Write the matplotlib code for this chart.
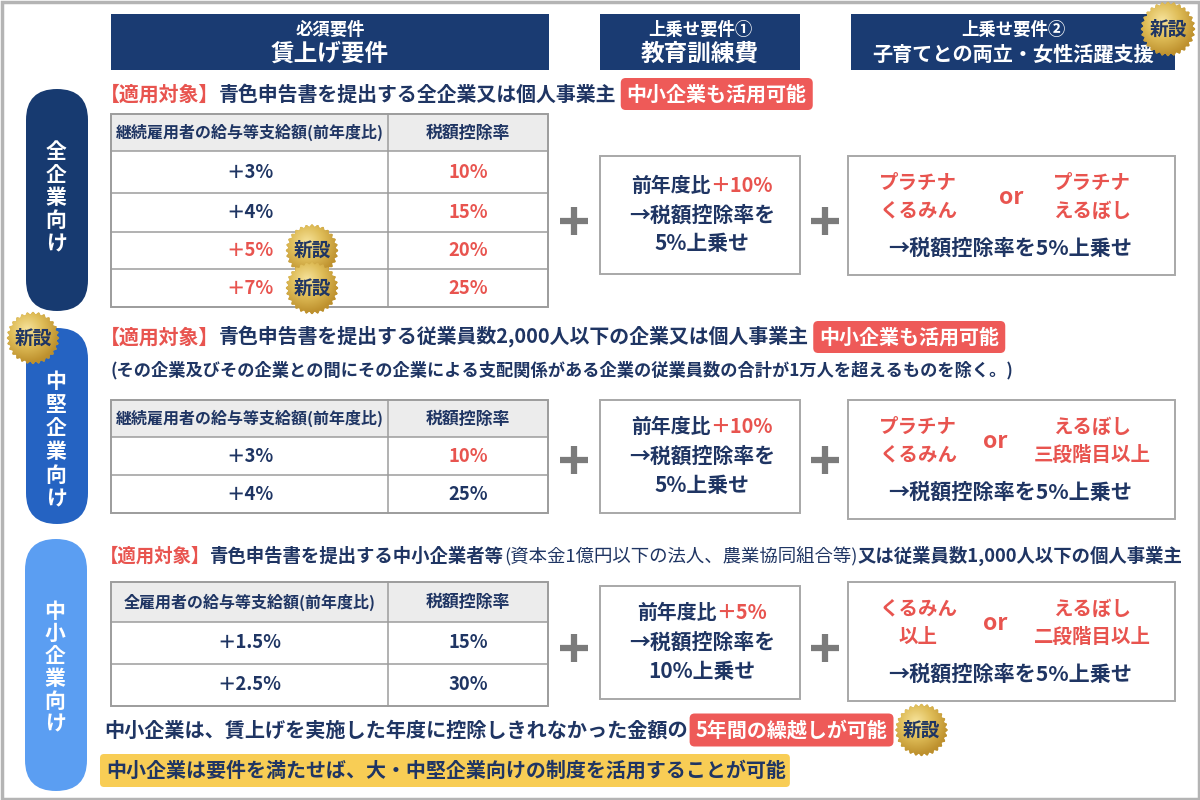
import numpy as np
import matplotlib
matplotlib.use("Agg")
import matplotlib.pyplot as plt
from matplotlib.patches import FancyBboxPatch, Rectangle, Polygon
from matplotlib.colors import LinearSegmentedColormap

plt.rcParams['font.family'] = ['Noto Sans CJK JP', 'DejaVu Sans']

## データ
col_small = ["必須要件", "上乗せ要件①", "上乗せ要件②"]
col_big = ["賃上げ要件", "教育訓練費", "子育てとの両立・女性活躍支援"]
targets = ["全企業向け", "中堅企業向け", "中小企業向け"]
scope_text = ["青色申告書を提出する全企業又は個人事業主",
              "青色申告書を提出する従業員数2,000人以下の企業又は個人事業主",
              None]
scope3_parts = ["青色申告書を提出する中小企業者等", "(資本金1億円以下の法人、農業協同組合等)",
                "又は従業員数1,000人以下の個人事業主"]
scope_note = "(その企業及びその企業との間にその企業による支配関係がある企業の従業員数の合計が1万人を超えるものを除く。)"
badge_text = "中小企業も活用可能"
table_head = ["継続雇用者の給与等支給額(前年度比)", "継続雇用者の給与等支給額(前年度比)",
              "全雇用者の給与等支給額(前年度比)"]
rate_head = "税額控除率"
wage_up = [["＋3%", "＋4%", "＋5%", "＋7%"], ["＋3%", "＋4%"], ["＋1.5%", "＋2.5%"]]
wage_red = [[False, False, True, True], [False, False], [False, False]]
credit = [["10%", "15%", "20%", "25%"], ["10%", "25%"], ["15%", "30%"]]
credit_red = [[True, True, True, True], [True, False], [False, False]]
new_row = [[False, False, True, True], [False, False], [False, False]]
edu_up = ["＋10%", "＋10%", "＋5%"]
edu_add = ["5%", "5%", "10%"]
cert_left = [["プラチナ", "くるみん"], ["プラチナ", "くるみん"], ["くるみん", "以上"]]
cert_right = [["プラチナ", "えるぼし"], ["えるぼし", "三段階目以上"], ["えるぼし", "二段階目以上"]]
carry_text = "中小企業は、賃上げを実施した年度に控除しきれなかった金額の"
carry_badge = "5年間の繰越しが可能"
note_text = "中小企業は要件を満たせば、大・中堅企業向けの制度を活用することが可能"

## 色
NAVY = '#1a3b72'
TXT = '#1f3563'
RED = '#e8544f'
BADGE = '#ee5a58'
GRAY = '#9c9c9c'
PILL = ['#173a70', '#2563c2', '#5b9ef2']
gold = LinearSegmentedColormap.from_list('gold', ['#f6e29a', '#dfbd58', '#bf922f', '#a97f25'])

fig = plt.figure(figsize=(12, 8), dpi=100)
ax = fig.add_axes([0, 0, 1, 1])
ax.set_xlim(0, 1200)
ax.set_ylim(800, 0)
ax.axis('off')
renderer = fig.canvas.get_renderer()


def rich(x, y, parts, size, ha='left', weight='bold'):
    """Texte multicolore sur une ligne; parts = [(texte, couleur[, poids])]"""
    objs = []
    for p in parts:
        w = p[2] if len(p) > 2 else weight
        t = ax.text(0, y, p[0], color=p[1], fontsize=size, fontweight=w, va='center', ha='left', zorder=6)
        objs.append(t)
    widths = [t.get_window_extent(renderer).width for t in objs]
    total = sum(widths)
    x0 = x - total/2 if ha == 'center' else x
    for t, w in zip(objs, widths):
        t.set_x(x0)
        x0 += w
    return x0


def seal(cx, cy, r=24):
    th = np.linspace(0, 2*np.pi, 500)
    rr = r*(1 + 0.045*np.cos(28*th))
    poly = Polygon(np.c_[cx + rr*np.cos(th), cy + rr*np.sin(th)], closed=True, fc='#c9a13e', ec='none', zorder=7)
    ax.add_patch(poly)
    g = np.linspace(0, 1, 80)
    X, Y = np.meshgrid(g, g)
    D = np.sqrt((X - 0.4)**2 + (Y - 0.35)**2)
    im = ax.imshow(D, cmap=gold, extent=(cx - r*1.1, cx + r*1.1, cy + r*1.1, cy - r*1.1),
                   zorder=7, interpolation='bilinear', aspect='auto')
    im.set_clip_path(poly)
    ax.text(cx, cy, "新設", color=TXT, fontsize=13.5, fontweight='bold', ha='center', va='center', zorder=8)


def badge(x, y, text, h=32, size=14.4):
    t = ax.text(x + 6, y, text, color='white', fontsize=size, fontweight='bold', va='center', ha='left', zorder=6)
    w = t.get_window_extent(renderer).width + 12
    ax.add_patch(FancyBboxPatch((x, y - h/2), w, h, boxstyle="round,pad=0,rounding_size=5",
                                fc=BADGE, ec='none', zorder=5))
    return x + w


def plus(x, y):
    ax.plot([x - 14, x + 14], [y, y], color='#7b7b7b', lw=4.5, solid_capstyle='butt', zorder=4)
    ax.plot([x, x], [y - 14, y + 14], color='#7b7b7b', lw=4.5, solid_capstyle='butt', zorder=4)


# cadre
ax.add_patch(Rectangle((1.5, 1.5), 1197, 797, fc='white', ec='#b4b4b4', lw=2.5, zorder=0))

# en-têtes
head_x = [(111, 549), (600, 800), (851, 1175)]
big_size = [17, 17, 14.5]
for (x0, x1), s, b, bs in zip(head_x, col_small, col_big, big_size):
    ax.add_patch(Rectangle((x0, 14), x1 - x0, 56, fc=NAVY, ec='none', zorder=2))
    ax.text((x0 + x1)/2, 30, s, color='white', fontsize=12.5, fontweight='bold', ha='center', va='center', zorder=3)
    ax.text((x0 + x1)/2, 54, b, color='white', fontsize=bs, fontweight='bold', ha='center', va='center', zorder=3)
seal(1168, 29, 26)

# piliers à gauche
pills = [(26, 89, 311), (26, 328, 524), (25, 539, 791)]
char_y0 = [151, 381, 611]
char_dy = [23.3, 23.5, 22.5]
for i, ((px, y0, y1), lab) in enumerate(zip(pills, targets)):
    ax.add_patch(FancyBboxPatch((px, y0), 62, y1 - y0, boxstyle="round,pad=0,rounding_size=31",
                                fc=PILL[i], ec='none', zorder=2))
    for k, ch in enumerate(lab):
        ax.text(px + 30, char_y0[i] + char_dy[i]*k, ch, color='white', fontsize=15, fontweight='bold',
                ha='center', va='center', zorder=3)
seal(33, 338, 25)

# lignes "適用対象"
scope_y = [94, 337, 556]
for i in range(3):
    if scope_text[i] is not None:
        end = rich(100, scope_y[i], [("【適用対象】", RED), (scope_text[i], TXT)], 14.35)
        badge(end + 4, scope_y[i], badge_text)
    else:
        rich(100, scope_y[i], [("【適用対象】", RED), (scope3_parts[0], TXT), (scope3_parts[1], TXT, 'normal'),
                               (scope3_parts[2], TXT)], 13.25)
ax.text(110, 370, scope_note, color=TXT, fontsize=12.4, fontweight='bold', ha='left', va='center', zorder=6)

# tableaux
row_lines = [[114, 151, 193, 232, 269, 307], [400, 437, 475, 513], [582, 622, 664, 706]]
tx0, tdiv, tx1 = 111, 388, 548
for i in range(3):
    ys = row_lines[i]
    ax.add_patch(Rectangle((tx0, ys[0]), tx1 - tx0, ys[1] - ys[0], fc='#ececec', ec='none', zorder=2))
    ax.add_patch(Rectangle((tx0, ys[0]), tx1 - tx0, ys[-1] - ys[0], fc='none', ec=GRAY, lw=1.4, zorder=3))
    for yy in ys[1:-1]:
        ax.plot([tx0, tx1], [yy, yy], color=GRAY, lw=1.1, zorder=3)
    ax.plot([tdiv, tdiv], [ys[0], ys[-1]], color=GRAY, lw=1.1, zorder=3)
    hy = (ys[0] + ys[1])/2
    ax.text((tx0 + tdiv)/2, hy, table_head[i], color=TXT, fontsize=11.5, fontweight='bold', ha='center', va='center', zorder=4)
    ax.text((tdiv + tx1)/2, hy, rate_head, color=TXT, fontsize=12.2, fontweight='bold', ha='center', va='center', zorder=4)
    for k in range(len(wage_up[i])):
        cy = (ys[k + 1] + ys[k + 2])/2
        ax.text((tx0 + tdiv)/2, cy, wage_up[i][k], color=RED if wage_red[i][k] else TXT, fontsize=13.3,
                fontweight='bold', ha='center', va='center', zorder=4)
        ax.text((tdiv + tx1)/2, cy, credit[i][k], color=RED if credit_red[i][k] else TXT, fontsize=13.3,
                fontweight='bold', ha='center', va='center', zorder=4)
        if new_row[i][k]:
            seal(312, cy, 25)

# boîtes des suppléments
boxA = [(156, 274), (400, 513), (586, 699)]
boxB = [(156, 275), (400, 519), (582, 701)]
plus_y = [221, 460, 648]
or_x = [1011, 995, 995]
for i in range(3):
    a0, a1 = boxA[i]
    b0, b1 = boxB[i]
    plus(574, plus_y[i])
    plus(825, plus_y[i])
    ax.add_patch(Rectangle((600, a0), 200, a1 - a0, fc='white', ec='#a8a8a8', lw=1.4, zorder=2))
    ax.add_patch(Rectangle((848, b0), 327, b1 - b0, fc='white', ec='#a8a8a8', lw=1.4, zorder=2))
    am = (a0 + a1)/2
    rich(702, am - 30, [("前年度比", TXT), (edu_up[i], RED)], 14.3, ha='center')
    ax.text(702, am, "→税額控除率を", color=TXT, fontsize=15, fontweight='bold', ha='center', va='center', zorder=6)
    ax.text(702, am + 29, edu_add[i] + "上乗せ", color=TXT, fontsize=15, fontweight='bold', ha='center', va='center', zorder=6)
    by = b0 + 27
    for k in range(2):
        ax.text(918, by + 28*k, cert_left[i][k], color=RED, fontsize=14, fontweight='bold', ha='center', va='center', zorder=6)
        ax.text(1092, by + 28*k, cert_right[i][k], color=RED, fontsize=14, fontweight='bold', ha='center', va='center', zorder=6)
    ax.text(or_x[i], by + 15, "or", color=RED, fontsize=16.5, fontweight='bold', ha='center', va='center', zorder=6)
    ax.text(1010, b1 - 27, "→税額控除率を5%上乗せ", color=TXT, fontsize=15.2, fontweight='bold', ha='center', va='center', zorder=6)

# 繰越し
end = rich(104, 730, [(carry_text, TXT)], 14.5)
bend = badge(end + 2, 730, carry_badge, h=33)
seal(bend + 28, 730, 25)

# encadré jaune
t = ax.text(106, 770, note_text, color=TXT, fontsize=14.4, fontweight='bold', ha='left', va='center', zorder=6)
w = t.get_window_extent(renderer).width
ax.add_patch(FancyBboxPatch((100, 754), w + 10, 33, boxstyle="round,pad=0,rounding_size=4",
                            fc='#f8cd55', ec='none', zorder=5))

ax.set_xlim(0, 1200)
ax.set_ylim(800, 0)
fig.savefig("out.png", dpi=100)
